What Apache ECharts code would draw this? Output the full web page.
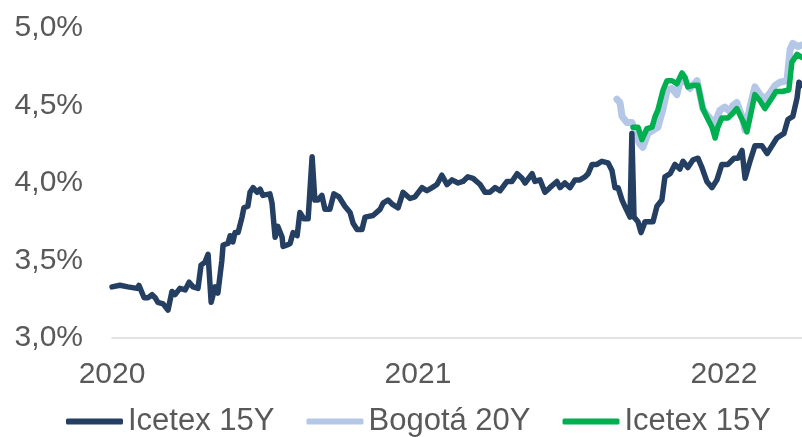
<!DOCTYPE html>
<html>
<head>
<meta charset="utf-8">
<script src="https://cdn.jsdelivr.net/npm/echarts@6/dist/echarts.min.js"></script>
<style>
html,body{margin:0;padding:0;background:#fff;}
#chart{width:802px;height:437px;}
</style>
</head>
<body>
<div id="chart"></div>
<script>
// Time as decimal years
const tIcetex = [2020.000,2020.026,2020.052,2020.082,2020.088,2020.105,2020.118,2020.131,2020.141,2020.150,
2020.167,2020.183,2020.196,2020.206,2020.222,2020.239,2020.252,2020.265,2020.281,2020.291,
2020.304,2020.314,2020.324,2020.330,2020.337,2020.346,2020.359,2020.363,2020.379,2020.386,
2020.395,2020.402,2020.412,2020.425,2020.431,2020.444,2020.451,2020.461,2020.474,2020.484,
2020.493,2020.516,2020.523,2020.533,2020.542,2020.556,2020.559,2020.572,2020.582,2020.592,
2020.605,2020.614,2020.627,2020.641,2020.654,2020.663,2020.673,2020.686,2020.696,2020.712,
2020.725,2020.742,2020.761,2020.778,2020.788,2020.801,2020.817,2020.827,2020.853,2020.876,
2020.886,2020.902,2020.918,2020.935,2020.951,2020.974,2020.990,2021.013,2021.029,2021.046,
2021.062,2021.078,2021.095,2021.111,2021.131,2021.147,2021.163,2021.180,2021.203,2021.219,
2021.235,2021.252,2021.268,2021.291,2021.307,2021.324,2021.340,2021.350,2021.373,2021.382,
2021.399,2021.415,2021.431,2021.454,2021.464,2021.480,2021.497,2021.513,2021.529,2021.546,
2021.556,2021.569,2021.585,2021.601,2021.621,2021.634,2021.644,2021.654,2021.667,2021.676,
2021.693,2021.699,2021.706,2021.719,2021.729,2021.742,2021.768,2021.781,2021.797,2021.807,
2021.824,2021.840,2021.856,2021.866,2021.882,2021.899,2021.915,2021.928,2021.944,2021.961,
2021.977,2021.993,2022.013,2022.033,2022.046,2022.059,2022.069,2022.085,2022.101,2022.124,
2022.141,2022.157,2022.173,2022.196,2022.209,2022.225,2022.239,2022.245,2022.255];
const vIcetex = [3.33,3.34,3.33,3.32,3.34,3.26,3.26,3.28,3.26,3.23,
3.22,3.18,3.30,3.28,3.32,3.31,3.36,3.33,3.32,3.47,
3.49,3.54,3.23,3.23,3.33,3.29,3.50,3.60,3.61,3.66,
3.62,3.68,3.68,3.78,3.84,3.85,3.94,3.97,3.94,3.96,
3.92,3.93,3.87,3.65,3.72,3.65,3.59,3.60,3.61,3.68,
3.66,3.81,3.77,3.77,4.17,3.89,3.89,3.92,3.83,3.83,
3.93,3.91,3.85,3.81,3.74,3.70,3.70,3.78,3.79,3.83,
3.87,3.89,3.86,3.84,3.94,3.90,3.91,3.97,3.95,3.97,
3.99,4.05,3.99,4.02,4.00,4.01,4.04,4.03,3.99,3.94,
3.94,3.97,3.95,4.01,4.01,4.06,4.03,4.00,4.06,4.01,
4.02,3.94,3.97,4.01,3.97,4.00,3.97,4.02,4.02,4.04,
4.06,4.12,4.12,4.14,4.13,4.08,3.97,3.97,3.89,3.85,
3.78,4.32,3.78,3.75,3.68,3.75,3.75,3.85,3.89,4.04,
4.06,4.12,4.09,4.14,4.10,4.15,4.16,4.10,4.01,3.97,
4.02,4.12,4.12,4.16,4.16,4.21,4.03,4.14,4.24,4.24,
4.19,4.24,4.29,4.32,4.41,4.43,4.55,4.65,4.63];

const tBogota = [2021.650,2021.660,2021.667,2021.683,2021.699,2021.709,2021.722,2021.735,2021.752,2021.768,
2021.784,2021.801,2021.814,2021.830,2021.846,2021.856,2021.873,2021.889,2021.912,2021.931,
2021.944,2021.954,2021.964,2021.977,2021.987,2022.003,2022.020,2022.029,2022.042,2022.059,
2022.069,2022.085,2022.101,2022.118,2022.134,2022.150,2022.167,2022.183,2022.206,2022.216,
2022.225,2022.242,2022.255];
const vBogota = [4.54,4.52,4.43,4.39,4.39,4.34,4.26,4.23,4.32,4.34,
4.36,4.48,4.60,4.61,4.57,4.65,4.66,4.61,4.66,4.48,
4.44,4.42,4.36,4.42,4.47,4.49,4.46,4.50,4.52,4.43,
4.34,4.49,4.62,4.57,4.54,4.58,4.63,4.65,4.66,4.86,
4.90,4.88,4.89];

const tIcetex2 = [2021.703,2021.719,2021.732,2021.748,2021.765,2021.775,2021.784,2021.801,2021.814,2021.830,
2021.846,2021.863,2021.873,2021.882,2021.899,2021.915,2021.931,2021.948,2021.961,2021.971,
2021.980,2021.993,2022.013,2022.029,2022.042,2022.062,2022.075,2022.088,2022.101,2022.118,
2022.134,2022.154,2022.170,2022.190,2022.212,2022.222,2022.239,2022.255];
const vIcetex2 = [4.36,4.36,4.28,4.35,4.36,4.43,4.47,4.60,4.66,4.66,
4.64,4.71,4.68,4.62,4.63,4.63,4.48,4.41,4.36,4.29,
4.36,4.42,4.42,4.45,4.48,4.40,4.33,4.45,4.57,4.53,
4.48,4.54,4.59,4.59,4.60,4.78,4.83,4.81];

const seriesNames = ['Icetex 15Y', 'Bogotá 20Y', 'Icetex 15Y '];
const yTicks = [3.0, 3.5, 4.0, 4.5, 5.0];
const xTicks = [2020, 2021, 2022];

function pairs(t, v) { return t.map((x, i) => [x, v[i]]); }

const chart = echarts.init(document.getElementById('chart'), null, {renderer: 'canvas'});
const font = 'Liberation Sans, Arial, sans-serif';
chart.setOption({
  animation: false,
  grid: {left: 112, right: 0, top: 28, bottom: 99, containLabel: false},
  legend: {
    data: seriesNames,
    left: 61, top: 401,
    itemWidth: 57, itemHeight: 6, itemGap: 32,
    icon: 'roundRect',
    textStyle: {fontFamily: font, fontSize: 31, color: '#595959'}
  },
  xAxis: {
    type: 'value', min: 2020, max: 2022.255, interval: 1,
    axisLine: {show: true, lineStyle: {color: '#D9D9D9', width: 1.5}},
    axisTick: {show: false},
    splitLine: {show: false},
    axisLabel: {
      showMaxLabel: false, margin: 22,
      fontFamily: font, fontSize: 30, color: '#595959',
      formatter: v => xTicks.indexOf(Math.round(v)) >= 0 && Math.abs(v - Math.round(v)) < 1e-6 ? String(Math.round(v)) : ''
    }
  },
  yAxis: {
    type: 'value', min: 3, max: 5, interval: 0.5,
    axisLine: {show: false}, axisTick: {show: false}, splitLine: {show: false},
    axisLabel: {
      margin: 29, fontFamily: font, fontSize: 30, color: '#595959',
      formatter: v => v.toFixed(1).replace('.', ',') + '%'
    }
  },
  series: [
    {name: seriesNames[1], type: 'line', showSymbol: false, z: 1,
     data: pairs(tBogota, vBogota), color: '#B4C7E7',
     lineStyle: {width: 7, color: '#B4C7E7', cap: 'round', join: 'round'}},
    {name: seriesNames[2], type: 'line', showSymbol: false, z: 2,
     data: pairs(tIcetex2, vIcetex2), color: '#00B050',
     lineStyle: {width: 5.5, color: '#00B050', cap: 'round', join: 'round'}},
    {name: seriesNames[0], type: 'line', showSymbol: false, z: 3,
     data: pairs(tIcetex, vIcetex), color: '#243F62',
     lineStyle: {width: 5.5, color: '#243F62', cap: 'round', join: 'round'}}
  ]
});
</script>
</body>
</html>
